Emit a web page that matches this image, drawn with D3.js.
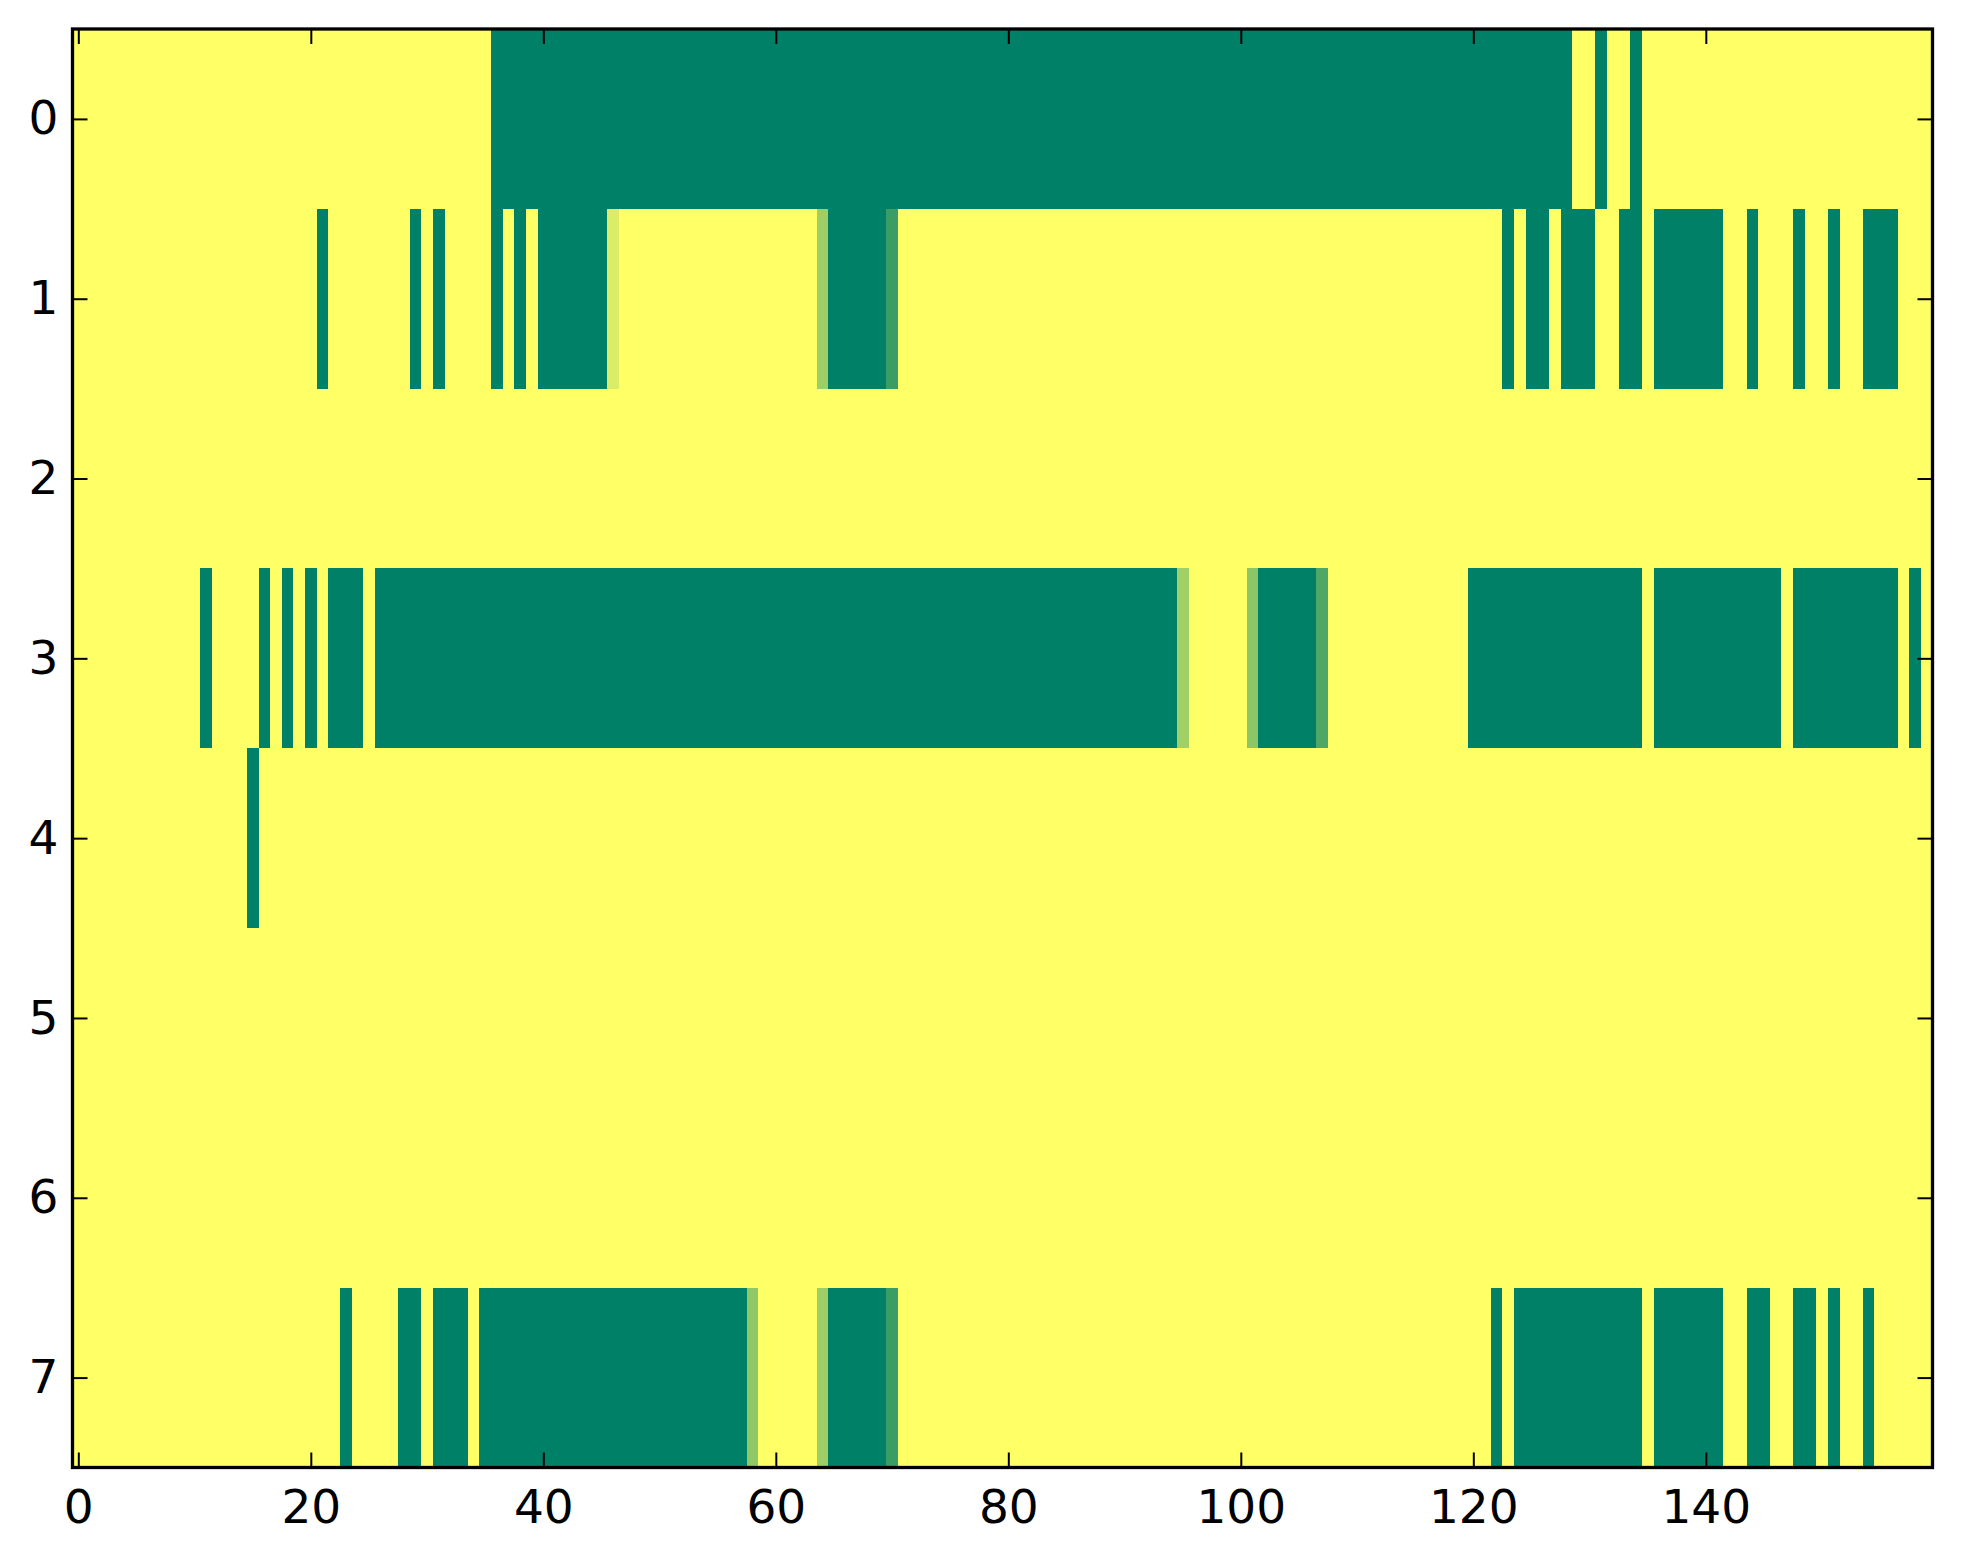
<!DOCTYPE html>
<html>
<head>
<meta charset="utf-8">
<script src="https://cdn.jsdelivr.net/npm/d3@7"></script>
<style>
  body { margin: 0; background: #fff; }
  .tick text { font-family: "DejaVu Sans", sans-serif; font-size: 47px; fill: #000; }
</style>
</head>
<body>
<div id="chart"></div>
<script>
// cell values, one string per row, 16 chunks of 10 columns each
// '.' = 1 (yellow), '#' = 0 (green), letters = in-between levels (see levels)
var levels = { ".": 1, "#": 0, "a": 0.86, "b": 0.62, "c": 0.23, "d": 0.63, "e": 0.55, "f": 0.31, "h": 0.57 };

var row0 = ["..........", "..........", "..........", "......####", "##########", "##########", "##########", "##########",
            "##########", "##########", "##########", "##########", "#########.", ".#..#.....", "..........", ".........."];
var row1 = ["..........", "..........", ".#.......#", ".#....#.#.", "######a...", "..........", "....b#####", "c.........",
            "..........", "..........", "..........", "..........", "...#.##.##", "#..##.####", "##..#...#.", ".#..###..."];
var row2 = ["..........", "..........", "..........", "..........", "..........", "..........", "..........", "..........",
            "..........", "..........", "..........", "..........", "..........", "..........", "..........", ".........."];
var row3 = ["..........", ".#....#.#.", "#.###.####", "##########", "##########", "##########", "##########", "##########",
            "##########", "#####d....", ".e#####f..", "..........", "##########", "#####.####", "#######.##", "#######.#."];
var row4 = ["..........", ".....#....", "..........", "..........", "..........", "..........", "..........", "..........",
            "..........", "..........", "..........", "..........", "..........", "..........", "..........", ".........."];
var row5 = ["..........", "..........", "..........", "..........", "..........", "..........", "..........", "..........",
            "..........", "..........", "..........", "..........", "..........", "..........", "..........", ".........."];
var row6 = ["..........", "..........", "..........", "..........", "..........", "..........", "..........", "..........",
            "..........", "..........", "..........", "..........", "..........", "..........", "..........", ".........."];
var row7 = ["..........", "..........", "...#....##", ".###.#####", "##########", "########h.", "....b#####", "c.........",
            "..........", "..........", "..........", "..........", "..#.######", "#####.####", "##..##..##", ".#..#....."];

var rows = [row0, row1, row2, row3, row4, row5, row6, row7];
var xTicks = [0, 20, 40, 60, 80, 100, 120, 140];
var yTicks = [0, 1, 2, 3, 4, 5, 6, 7];

var W = 1963, H = 1564;
var plotL = 72.5, plotR = 1932.5, plotT = 29, plotB = 1467.5;

var cells = [];
rows.forEach(function(r, i) {
    r.join("").split("").forEach(function(ch, j) {
        cells.push({ row: i, col: j, value: levels[ch] });
    });
});
var nCols = rows[0].join("").length;

var x = d3.scaleLinear().domain([-0.5, nCols - 0.5]).range([plotL, plotR]);
var y = d3.scaleLinear().domain([-0.5, rows.length - 0.5]).range([plotT, plotB]);
// summer colormap: green (0) -> yellow (1)
var color = d3.scaleLinear().domain([0, 1]).range(["#008066", "#ffff66"]);

var svg = d3.select("#chart").append("svg").attr("width", W).attr("height", H);

svg.append("g").selectAll("rect").data(cells).enter().append("rect")
    .attr("x", function(d) { return x(d.col - 0.5); })
    .attr("y", function(d) { return y(d.row - 0.5); })
    .attr("width", function(d) { return x(d.col + 0.5) - x(d.col - 0.5) + 0.3; })
    .attr("height", function(d) { return y(d.row + 0.5) - y(d.row - 0.5) + 0.3; })
    .attr("fill", function(d) { return color(d.value); })
    .attr("shape-rendering", "crispEdges");

// ticks point inwards, like the classic style
function styleAxis(g) {
    g.select(".domain").remove();
    g.selectAll(".tick line").attr("stroke", "#000").attr("stroke-width", 2);
}

svg.append("g").attr("transform", "translate(0," + plotB + ")")
    .call(d3.axisBottom(x).tickValues(xTicks).tickSizeInner(-15).tickSizeOuter(0).tickPadding(22))
    .call(styleAxis);
svg.append("g").attr("transform", "translate(0," + plotT + ")")
    .call(d3.axisTop(x).tickValues(xTicks).tickSizeInner(-15).tickSizeOuter(0).tickFormat(""))
    .call(styleAxis);
svg.append("g").attr("transform", "translate(" + plotL + ",0)")
    .call(d3.axisLeft(y).tickValues(yTicks).tickSizeInner(-15).tickSizeOuter(0).tickPadding(14))
    .call(styleAxis);
svg.append("g").attr("transform", "translate(" + plotR + ",0)")
    .call(d3.axisRight(y).tickValues(yTicks).tickSizeInner(-15).tickSizeOuter(0).tickFormat(""))
    .call(styleAxis);

svg.selectAll(".tick text").attr("font-family", "DejaVu Sans").attr("font-size", 47);

// frame
svg.append("rect")
    .attr("x", plotL).attr("y", plotT)
    .attr("width", plotR - plotL).attr("height", plotB - plotT)
    .attr("fill", "none").attr("stroke", "#000").attr("stroke-width", 3.3);
</script>
</body>
</html>
